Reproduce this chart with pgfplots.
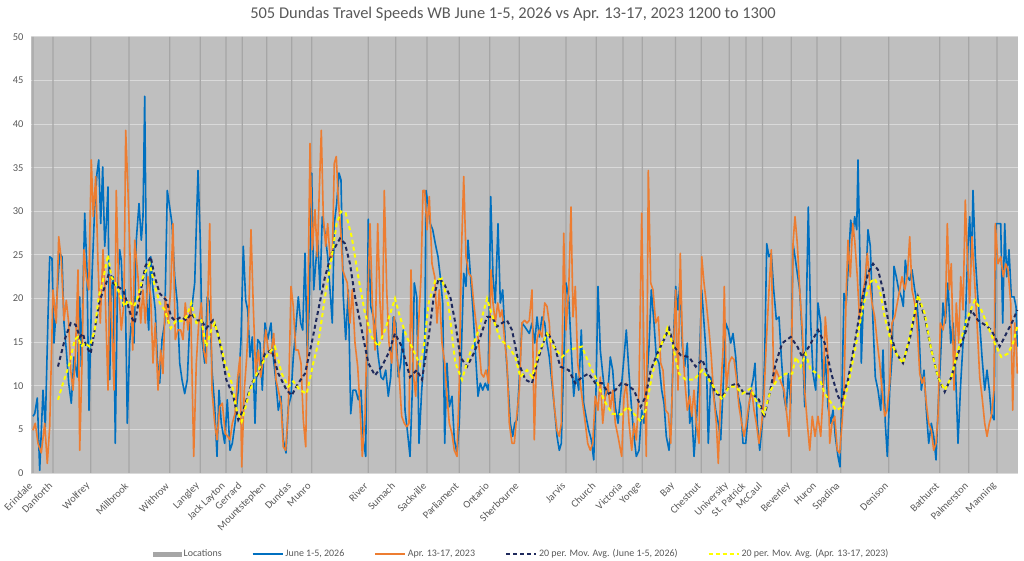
\documentclass[border=0pt]{standalone}
\usepackage{fontspec}
\setmainfont{Carlito}
\usepackage{pgfplots}
\pgfplotsset{compat=1.18}
\definecolor{bgc}{RGB}{191,191,191}
\definecolor{gridc}{RGB}{217,217,217}
\definecolor{locc}{RGB}{166,166,166}
\definecolor{bluec}{RGB}{0,112,192}
\definecolor{orangec}{RGB}{237,125,49}
\definecolor{navyc}{RGB}{31,42,92}
\definecolor{yellowc}{RGB}{255,255,0}
\definecolor{txt}{RGB}{89,89,89}
\begin{document}
\begin{tikzpicture}
\path[use as bounding box] (0,0) rectangle (1024bp,561bp);
\begin{axis}[
  at={(31bp,88bp)}, anchor=south west,
  scale only axis, width=987bp, height=436bp,
  xmin=31, xmax=1018, ymin=0, ymax=50,
  ytick={0,5,...,50},
  xtick={33,53,90.7,129,169.7,200.3,226,242.3,266.7,291.7,311.7,368.3,395.7,427,459.3,489.7,519.3,566,596.3,623,642.3,675.5,701.3,729.2,746,762.5,791.3,817,840.7,888.7,939.7,968.7,997},
  xticklabels={Erindale,Danforth,Wolfrey,Millbrook,Withrow,Langley,Jack Layton,Gerrard,Mountstephen,Dundas,Munro,River,Sumach,Sackville,Parliament,Ontario,Sherbourne,Jarvis,Church,Victoria,Yonge,Bay,Chestnut,University,St. Patrick,McCaul,Beverley,Huron,Spadina,Denison,Bathurst,Palmerston,Manning},
  axis line style={draw=none},
  major tick length=0pt,
  ymajorgrids, grid style={draw=gridc, line width=1bp},
  axis background/.style={fill=bgc},
  tick label style={font=\fontsize{10.5}{12}\selectfont, text=txt},
  /pgf/number format/assume math mode=true,
  xticklabel style={rotate=45, anchor=east},
  xticklabel shift=9bp,
  yticklabel style={xshift=-4bp},
  legend image code/.code={\draw[#1] (0bp,0bp) -- (30bp,0bp);},
  legend style={at={(0.497,-0.186)}, anchor=center, draw=none, fill=none,
    font=\fontsize{10}{12}\selectfont, text=txt, legend columns=5,
    /tikz/every even column/.append style={column sep=28bp}},
]
\addplot[ybar, bar width=1.2bp, fill=locc, draw=none,
  legend image code/.code={\fill[locc] (0bp,-2.5bp) rectangle (29bp,2.5bp);}]
  coordinates {(33,50) (53,50) (90.7,50) (129,50) (169.7,50) (200.3,50) (226,50) (242.3,50) (266.7,50) (291.7,50) (311.7,50) (368.3,50) (395.7,50) (427,50) (459.3,50) (489.7,50) (519.3,50) (566,50) (596.3,50) (623,50) (642.3,50) (675.5,50) (701.3,50) (729.2,50) (746,50) (762.5,50) (791.3,50) (817,50) (840.7,50) (888.7,50) (939.7,50) (968.7,50) (997,50)};
\addlegendentry{Locations}
\addplot[bluec, line width=1.6bp, line join=round] table {
33 6.5
34.7 6.8
37.3 8.6
39.7 0.3
43 9.5
45.3 5.3
48 17.9
49.7 24.8
52 24.6
54 14.9
56.3 19.1
59.7 25.2
62 24.8
64 17.2
66.3 14.1
68.7 10.3
71.3 8
74 13.3
77.3 11
79.7 20.2
81.3 12.2
84.7 29.8
87 23.3
89 7.2
92 22.5
94.7 30.5
97 34.4
98.7 35.9
100.7 28.6
102.7 35.1
104.7 26
106.3 28.6
108 32.8
109.7 10.7
111.3 21
113.3 22.5
115.3 3.4
117.3 20.2
119.7 25.6
121.3 24.4
123 19.1
125.3 21
127.3 5.7
129.7 14.9
131.3 17.2
134 14.9
136.3 26.7
139 30.9
141.3 26.7
143 29.4
144.7 43.2
146.7 19.8
148.7 16.4
150.7 24.8
153 21
155.3 18.7
157.3 13
159.7 10.3
162 15.3
164.7 17.2
167.3 32.4
169.7 30.5
172 28.6
174.7 22.5
177.3 19.5
179.7 12.6
182 10.7
184.7 9.1
187.3 10.7
189.7 17.2
192 19.1
194.7 21.8
198 34.7
200.3 26.7
202 15.3
204.7 12.6
207.3 20.2
209.7 19.5
212 11.8
214.7 7.6
217 1.9
219 9.5
221.3 5.7
224.7 3.4
227.3 8.4
230 2.6
232.3 3.4
235 5.7
238.3 9.5
241 15.3
243.3 26
245.7 19.8
247.7 18.7
250 13.3
252.3 15.6
255 5.7
257.7 15.3
260 14.9
262.3 9.5
265 17.2
267.7 15.3
271 17.2
273.3 13.3
275.7 10.7
278.3 7.2
281 8.8
283.3 3.8
286 2.3
288.3 7.6
291 8.8
293.3 13.3
295.7 16.4
298.3 20.2
300.7 17.2
302.7 16.4
305 25.2
307.3 13.3
309.3 19.5
311.7 34.4
313.7 21
315.7 24
317.7 26.7
320 21
322.3 29.4
325 27.5
327.7 24.8
330 21
332.3 17.2
334.3 28.6
336.7 30.9
339 34.4
341 33.6
343.3 20.2
345.7 15.3
348.3 21
350.7 6.8
353 9.5
355.7 9.5
358.3 8.4
361 9.5
363.3 3.8
365.7 1.9
368.3 29.1
370.7 19.1
373.3 17.9
375.7 16.4
378.3 13.3
381 11
383.3 10.7
385.7 11.8
388.3 8.8
390.7 11
393.3 17.9
395.7 17.2
398.3 11
400.7 12.6
403.3 16.4
405 7.2
407.3 4.9
410 1.9
412.3 9.5
414.3 21.8
416.7 20.2
419 3.4
421.7 9.5
424.7 14.1
426 32.4
428 30.9
430.3 28.6
432.7 27.9
435.3 26.3
438 24.8
440.3 22.5
442.7 19.5
444.7 3.4
447 12.6
449.3 7.6
452 8.8
454.3 3.8
457 2.3
459.3 5.7
462 16.4
463.7 22.9
466 21.4
468 26.7
470.3 22.9
472.7 19.1
475.3 14.1
478 8.8
480.3 10.3
482.7 9.5
485.3 10.3
488 9.5
490.7 31.7
493 22.5
495.3 19.5
498 28.6
500.3 19.5
502.7 21
505.3 14.9
508 10.3
510.3 5.7
512.7 4.2
514.7 5.7
517 6.1
519.3 10.7
522 17.2
524.7 16.8
527 16.4
529.3 16
532 17.2
534.7 14.9
537 17.9
539.3 15.6
542 17.9
544.7 17.2
547 14.9
549.3 13.3
552 10.3
554.3 7.6
557 4.2
559.3 2.6
561.3 3.4
563.7 12.6
566 21.8
568.7 20.2
571.3 14.1
573.7 8.8
576 11.4
578.7 9.5
581.3 16.4
583.7 8
586 6.5
588.7 4.9
591.3 3.8
593.7 1.5
596 9.5
598 21.4
600.3 14.1
602.7 11.4
605.3 8.8
608 9.5
610.3 13.3
612.7 11.8
615.3 7.6
618 5.7
621.7 10.3
624 13.3
626.3 16.4
629 11.4
631.7 7.2
634 4.2
636.3 1.9
639 2.6
641.7 7.2
644 5.7
646.3 9.5
649 14.5
651.3 21
654 17.2
656.3 13.3
659 12.6
661.7 9.5
664 8
666.3 4.2
669 2.6
671.3 5.7
673.3 14.9
675.7 21.4
678 18.7
680 22.1
682.3 14.5
684.7 12.2
687.3 14.9
689.7 5.7
691.7 7.2
694 1.9
696.3 5.7
699 11.4
701.7 21
704 17.2
706.3 13.3
708.3 3.4
710.7 11
713 9.5
715.7 7.2
718.3 5.7
720.7 3.8
723 9.5
725.7 17.2
728.3 16.4
730.7 14.9
733 16
735.7 13.3
738.3 8.8
740.7 7.6
743 3.4
745.7 3.4
748 6.5
750.7 9.5
753 10.7
755 12.6
757.3 5.7
759.7 2.6
762.3 5.7
764.7 13.3
766.7 26.3
769 24.8
771.3 25.2
773.7 21
776.3 17.6
779 17.9
781.3 13.3
784 8.8
786.3 7.2
788.3 11.4
790.7 8
793 26.3
795 24.8
797.3 22.9
799.7 21
802.3 15.3
804.7 7.6
806.7 21
808.3 30.5
810.7 17.2
813 11.4
815.7 9.5
818 19.5
820.7 17.2
823 9.5
825.3 13.3
828 7.6
830.7 5.7
833 7.2
835.3 4.2
838 1.9
840 0.7
842 9.5
844 20.6
846.3 19.5
848.7 24.8
850.7 29
852.7 27.1
854.7 29.4
856.7 27.9
858 35.9
860 24
861.3 12.6
863.3 19.5
865.7 21.8
868 27.9
870.3 26
873 17.2
875.3 11
878 9.5
880.7 7.2
883 14.1
885.3 5.7
887.3 1.9
889.7 9.5
892 13.3
894 23.7
896.3 22.5
898.7 21
901.3 20.2
903.3 19.1
905.3 24.4
907.3 22.5
909.7 22.1
912 23.3
914.7 21
917 19.5
919 16.4
921.3 9.5
924 11.8
926.3 7.2
928.7 3.4
931.3 5.7
933.7 4.2
936 1.5
938 7.2
940.3 12.6
943 19.5
945.3 17.2
948 21.8
950.7 14.9
953 17.2
955.3 12.6
958 3.4
960.7 10.3
963 14.9
965.3 17.2
968 26.3
969.7 29.4
971.3 23.7
973 32.4
975.3 24.8
977.3 21
979.7 17.2
982 13.3
984.7 9.5
987 11.8
989.3 9.5
991.3 6.8
994 6.1
996 28.6
998.3 28.6
1000.7 28.6
1002.7 17.2
1004.7 28.6
1006.7 22.5
1009 25.6
1011.3 20.2
1014 20.2
1016 19.1
1017.3 14.5
};
\addlegendentry{June 1-5, 2026}
\addplot[orangec, line width=1.6bp, line join=round] table {
33 4.9
35.3 5.7
38 3.4
41.3 2.3
44.7 5.7
47.3 1.1
49.7 5.3
53 21
56.3 17.2
58.7 27.1
61.3 24.4
64 17.5
66.3 19.8
68.7 17.2
70.7 11.8
73 9.5
75.3 13.3
78 23.3
79.7 2.6
82 12.6
84 25.6
86.3 22.5
88.7 21
91.3 35.9
93.3 29.4
95.7 34
98 24
100.3 17.2
103 25.6
105.3 20.2
108 9.5
110 22.5
112 16.4
114 9.5
116.3 32.4
118.7 21
121.3 16.4
124 19.5
125.7 39.3
128 32.4
130.3 24
132.7 14.1
134.7 26.7
138 22.5
140.7 17.2
143 21
145.3 17.2
148 22.5
150.7 20.2
153 12.6
155.3 17.2
158 9.5
160.7 14.1
163 11.4
165.3 20.2
168 17.2
170.7 21
173 28.6
175.3 15.3
178 16.4
180.7 16.4
183 15.3
185.3 19.5
188 16.4
190.7 19.1
193.7 1.9
196.3 12.6
198.7 17.2
201.3 19.5
203.7 14.1
206.3 12.6
209.7 28.6
212 9.5
214.7 5.7
217 3.8
219.7 7.6
222.3 8
225.3 4.5
227.7 4.2
230 3.8
232.3 5.7
235 6.8
237.7 11
240 13.3
241.7 0.7
244.3 9.5
246.7 13.3
249 19.1
251 27.9
253.3 19.1
255.7 11.4
258.3 14.1
260.7 11
263.3 13.3
265.7 16.4
268.3 14.1
271 13.7
273.7 16
276 10.7
278.3 9.5
281 8
283.3 3
285.7 2.6
288.3 7.2
291 21.4
293.3 19.1
295.7 14.1
298.3 14.1
301 12.6
303.3 6.1
305.7 3
307.7 17.2
310 37.8
312.3 25.6
315 30.2
317.3 24.8
319.3 32.4
321.3 39.3
323.3 29.4
325.7 26
327.7 28.6
330 24.8
332.3 24.8
334.3 35.5
336.3 36.3
338.3 31.3
340.7 27.9
342.7 23.3
345 22.5
347.3 21.8
350 17.2
352.3 21
355 14.9
357.7 12.2
360 7.6
362.3 1.9
365 6.5
367.7 19.5
370 28.6
372.3 19.5
375 14.1
377.7 28.6
380 19.5
382.3 15.3
384.3 32.4
386.7 21
389 14.9
391.7 12.6
394.3 17.9
396.7 13.7
399 11.4
401.7 6.5
404.3 5.7
406.7 5.3
409 5.7
411 23.3
413.3 11.4
415.7 8.8
418.3 16.4
421 22.5
423 32.4
424.7 32.4
427 27.9
429.3 31.7
432 24
434.7 22.5
437 17.2
439.3 21
442 14.9
444.7 12.6
447 8.8
449.3 5.7
452 4.5
454.3 2.6
457 1.9
459.3 10.3
461.3 24.8
463.7 34
466 24.8
468.7 22.9
471.3 22.5
473.7 19.5
476 17.2
478.7 14.9
481.3 11.4
483.7 11
486 11.8
488.7 10.3
491 23.3
493 19.5
495.3 17.2
497.7 19.5
500 17.9
502 18.7
504.3 15.6
507 12.6
509.3 5.7
512 3.4
514.3 3.4
516.7 6.5
519.3 9.5
522 17.2
524.7 17.5
527 17.2
529.3 17.5
532 21
534.3 3.8
537 15.3
539.3 16.4
542 15.6
544.7 19.5
547 19.1
549.3 17.2
552 11
554.3 7.6
557 4.9
559.3 4.2
561.3 5.7
563.7 27.5
566 16.4
568.7 21
571 30.5
573 17.9
575.3 21.4
577.7 12.6
580.3 10.3
582.7 8
585.3 5.7
587.7 3.4
590.3 2.6
592.7 3.4
595.3 8.8
598 7.2
600.3 11
602.7 5.7
605.3 8.8
608 10.3
610.3 7.2
612.7 9.5
615.3 5.7
618 4.2
621.7 1.9
624 8.8
626.3 10.3
629 5.7
631.7 2.6
634 5.7
636.3 3.8
639 9.5
641.7 29.8
644 13.3
646.3 1.9
648.3 34.7
650.7 21.8
653 21
655.7 17.2
658.3 17.9
660.7 12.6
663 11.8
665.7 7.2
668.3 6.8
670.7 3.4
673 12.6
675.7 21
678 9.5
680.3 25.2
682.3 15.6
684.7 10.7
687.3 7.2
689.7 8.8
691.7 6.5
694 9.5
696.3 5.7
699 3.4
701.7 24.8
704 21.8
706.3 19.5
709 16.4
711.3 13.3
713.7 8.8
716.3 5.7
718.3 1.1
720.7 9.5
723 14.1
724.3 21.4
726.3 9.5
729 12.6
731.7 13.3
734 13
736.3 11
739 7.6
741.7 5.7
744 4.2
746.3 5.7
749 8
751.7 9.5
754 7.2
756.3 5.7
759 3.4
761.7 5.7
764 8.8
766.3 14.9
769 21
771.3 25.6
773.7 10.3
776.3 11.8
779 11
781.3 10.3
784 9.5
786.3 7.2
789 4.2
791.3 11
793 26.3
795 29.4
797.3 26.3
799.7 21
802.3 16.4
804.7 9.5
807.3 5.7
809.7 2.6
812.3 6.5
815 4.2
818 6.5
820.7 4.2
823 8.8
825.3 17.9
827.3 14.9
829.7 3.4
832 5.7
834.7 6.5
837.3 2.6
839.7 2.3
842 5.7
844 9.5
846.3 21
848 26.7
850.3 22.5
852.7 28.6
854.7 26.7
857.3 22.5
859.7 17.2
862 20.2
864.7 21.8
867.3 25.2
869.7 21.8
872 19.5
874.7 17.9
877.3 14.9
879.7 12.6
882 9.5
884.7 6.5
887 7.2
889.7 10.3
892 17.2
894.7 17.9
897.3 19.5
899.7 21
902 22.5
904.7 21
907.3 22.5
909.7 27.1
912 21
914.7 19.5
917 17.2
919.7 11.4
922 10.3
924 11
926.3 8
928.7 5.7
931.3 4.9
933.7 2.6
936 3.4
938 6.5
940.3 17.2
943 16.4
945.3 17.9
947.3 28.6
949.3 21
951.3 24
954 9.5
956.3 19.5
958.7 14.9
960.7 22.5
963 18.7
965.3 31.3
967.3 24.8
969.7 19.5
972 27.1
974.7 21.8
977 17.2
979.7 11
982 8.8
984.7 5.7
987 4.2
989.3 5.7
991.3 6.5
994 9.5
995.3 28.6
998 24
1000.7 24.8
1003.3 22.5
1005.7 24
1008 23.3
1010.7 19.5
1012.7 7.2
1014.7 17.2
1016.7 13.3
1017.3 11.4
};
\addlegendentry{Apr. 13-17, 2023}
\addplot[navyc, line width=2bp, dash pattern=on 4bp off 3bp] table {
58 12.2
64.7 15.3
70.7 17.2
75.7 17
79.7 15.6
83 16
86.3 14.5
90.7 13.7
94.7 16.4
99.7 19.8
106.3 21.8
109.7 23.3
113 21.8
117.3 21.4
123 21
127.3 19.5
131.3 17.9
134.7 17.2
139.7 20.2
145.3 23.7
150.7 24.8
154.7 22.5
159.7 20.6
166.3 19.8
171.3 17.9
174.7 17.5
181.3 17.9
186.3 17.5
191.3 18.3
196.3 17.5
201.3 17.5
206.3 16.6
213 17.5
218 16
221.3 14.1
226.3 10.7
233.3 8.8
238.3 6.1
243.3 7.2
251.7 10.3
258.3 11.4
265 13.7
271.7 14.1
278.3 11.4
286.7 9.5
291.7 8.9
298.3 10.3
305 11.4
311.7 14.9
318.3 18.7
325 22.5
331.7 25.2
340 26.9
345 26.3
350 24
355 20.2
361.7 16.4
368.3 12.6
375 11.2
381.7 12.2
388.3 13.7
395 16
401.7 14.5
410 11
416.7 11.8
422 10.7
428.7 15.6
433.7 20.2
438.7 22.3
443.7 21.8
450.3 20.2
455.3 17.2
460.3 13.3
467 12.2
473.7 13.7
480.3 15.6
487 17.9
492 17.9
497 16.8
502 17.2
507 17.5
512 16.4
518.7 12.6
525.3 10.7
532 10.3
538.7 13.3
547 16.2
553.7 14.9
560.3 12.2
568.7 11.8
575.3 10.3
582 11
588.7 11.4
595.3 10.3
602 10.3
608.7 9.1
615.3 9.5
621.3 10.3
627.3 10.1
634 9.5
640.7 7.6
645.7 8.8
650.7 11.8
657.3 13.7
664 15.3
669 16.6
674 14.5
680.7 13.5
689 13.3
695.7 12.2
702.3 13
709 11
715.7 9.1
722.3 8.8
729 9.9
737.3 10.3
744 9.1
752.3 9.1
759 8.4
764 6.3
769 8.8
775.7 12.6
782.3 14.9
790.7 15.6
797.3 14.5
802.3 13.3
809 14.5
818 16.4
824.7 14.9
831.3 11.4
838 8.8
841.3 8.2
848 10.7
854.7 14.9
861.3 19.5
868 22.9
873 24
878 23.3
883 21
889.7 16.4
896.3 13.7
903 12.6
909.7 15.3
918 20.2
924.7 17.9
931.3 14.1
938 11
944.7 9.3
951.3 11
958 13.7
966.3 16.4
971.3 18.7
978 17.5
984.7 17
991.3 16.4
999.7 14.5
1006.3 16
1013 17.5
1017.3 18.7
};
\addlegendentry{20 per. Mov. Avg. (June 1-5, 2026)}
\addplot[yellowc, line width=2bp, dash pattern=on 4bp off 3bp] table {
58 8.4
63 10.3
69.7 12.6
74.7 15.3
78 15.6
81.3 14.5
84.7 14.9
89.7 14.5
94.7 16.4
98.7 20.2
103 22.1
108 25
111.3 22.5
115.3 21.8
120.7 20.2
124.7 19.1
128 19.8
134 19.1
138 20.2
143 22.5
149.7 24
154 21.8
159.7 19.5
164.7 18.7
170.7 16.6
176.3 17.5
181.3 17.4
186.3 17.9
191.3 19.5
196.3 17.2
201.3 17.5
206.3 14.5
211.3 16.4
214.7 17.2
221.3 14.5
225 12.6
231.7 10.3
236.7 7.2
241.7 5.9
250 9.5
258.3 11.8
268.3 13.7
275 14.5
281.7 11.4
288.3 9.9
293.3 10.5
300 9.5
306.7 9.1
313.3 12.6
318.3 14.9
325 20.2
331.7 24.8
336.7 28.6
341 30
345.7 29.8
351.7 27.1
358.3 22.5
365 18.3
371.7 15.6
378.3 14.5
385 16.4
395 20
400 17.9
406.7 15.6
413.3 14.1
420 12.4
424.3 14.9
428.7 19.5
435.3 22.1
442 22.3
448.7 19.1
455.3 12.6
462 10.7
468.7 13.3
478.7 16.4
487 20
493.7 17.5
500.3 15.3
508.7 14.5
515.3 13.3
520.3 11
527 11.8
532 11
538.7 13.7
547 16
553.7 14.5
562 13.3
568.7 14.1
575.3 14.3
582 14.5
588.7 12.6
595.3 11
603.7 8.4
612 6.8
621.3 6.7
627.3 7.6
634 6.8
640.7 5.9
645.7 7.2
652.3 11.4
660.7 14.5
667.3 16.6
672.3 14.9
679 11.4
685.7 10.7
694 10.7
702.3 11.8
709 10.7
715.7 9.5
722.3 8.4
729 9.9
735.7 9.9
742.3 9.1
750.7 9.7
757.3 8
764 6.8
770.7 9.5
777.3 10.7
785.7 11.4
792.3 11.4
795.7 13.3
800.7 12.2
805.7 13.7
810.7 11.8
818 11.4
824.7 9.1
831.3 8
836.3 7.2
843 7.6
849.7 11
856.3 14.9
863 19.1
869.7 21.8
874.7 22.3
879.7 21
884.7 17.9
891.3 14.9
898 13.3
903 12.6
909.7 15.6
918 20.4
924.7 18.3
931.3 14.1
938 11
944.7 9.5
951.3 11
958 14.1
966.3 17.5
974.7 19.8
981.3 18.7
988 16.8
994.7 14.9
1001.3 13.3
1008 13.7
1013 14.9
1017.3 16.8
};
\addlegendentry{20 per. Mov. Avg. (Apr. 13-17, 2023)}
\end{axis}
\node[font=\fontsize{16.5}{19}\selectfont, text=txt] at (513bp,547bp) {505 Dundas Travel Speeds WB June 1-5, 2026 vs Apr. 13-17, 2023 1200 to 1300};
\end{tikzpicture}
\end{document}
